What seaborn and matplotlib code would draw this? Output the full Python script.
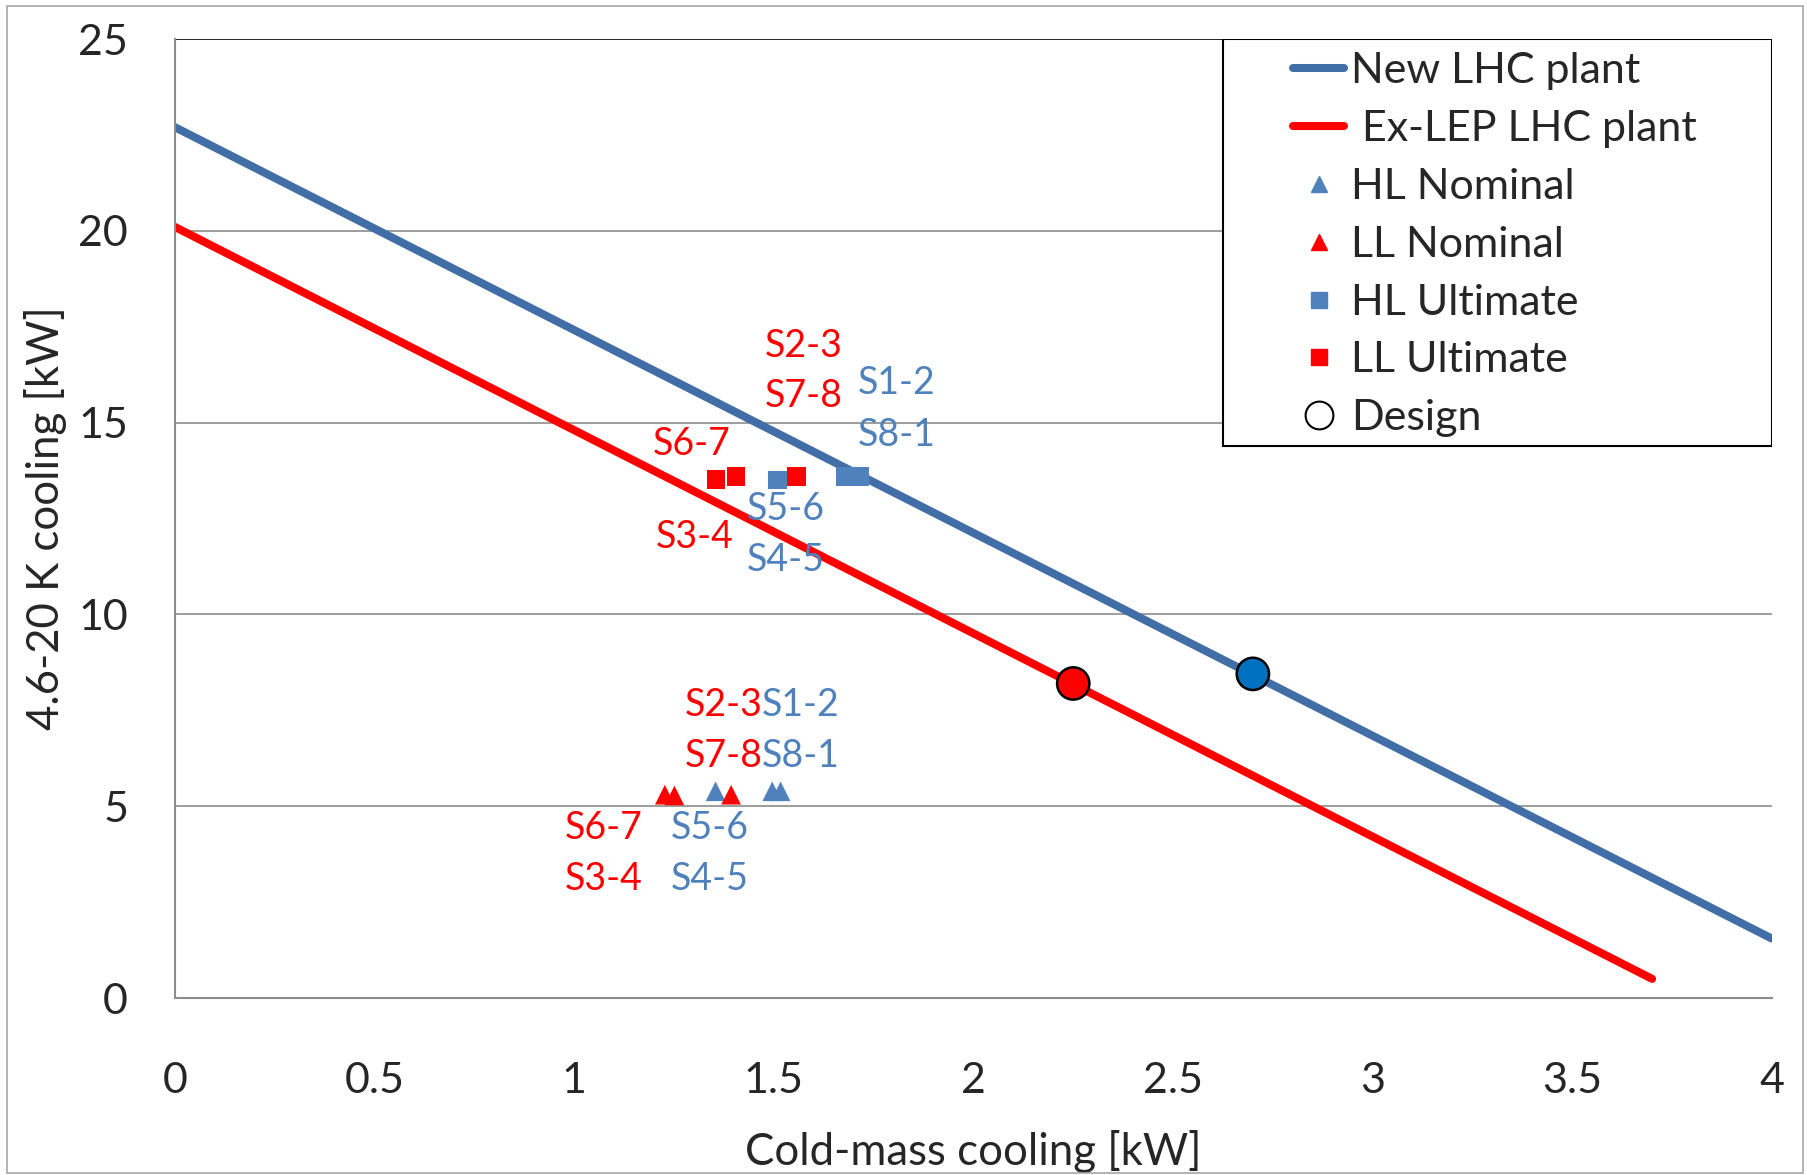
import numpy as np
import pandas as pd
import matplotlib
matplotlib.use("Agg")
import matplotlib.pyplot as plt
import seaborn as sns
from matplotlib.lines import Line2D
from matplotlib.patches import Rectangle

# ---------------- data ----------------
new_plant_x = [0.0, 4.0]
new_plant_y = [22.7, 1.55]
exlep_plant_x = [0.0, 3.7]
exlep_plant_y = [20.1, 0.5]

hl_nominal_x = [1.354, 1.496, 1.517]
hl_nominal_y = [5.39, 5.39, 5.39]
ll_nominal_x = [1.227, 1.251, 1.393]
ll_nominal_y = [5.30, 5.28, 5.30]

hl_ultimate_x = [1.510, 1.678, 1.716]
hl_ultimate_y = [13.50, 13.60, 13.60]
ll_ultimate_x = [1.355, 1.405, 1.557]
ll_ultimate_y = [13.52, 13.60, 13.60]

design_x = [2.70, 2.25]
design_y = [8.45, 8.20]

sector_labels = ["S2-3", "S7-8", "S1-2", "S8-1", "S6-7", "S3-4", "S5-6", "S4-5",
                 "S2-3", "S1-2", "S7-8", "S8-1", "S6-7", "S5-6", "S3-4", "S4-5"]
sector_label_group = ["LL", "LL", "HL", "HL", "LL", "LL", "HL", "HL",
                      "LL", "HL", "LL", "HL", "LL", "HL", "LL", "HL"]
sector_label_x = [1.574, 1.574, 1.808, 1.808, 1.294, 1.303, 1.531, 1.531,
                  1.374, 1.568, 1.374, 1.568, 1.074, 1.340, 1.074, 1.340]
sector_label_y = [17.00, 15.69, 16.02, 14.69, 14.45, 12.02, 12.74, 11.42,
                  7.63, 7.63, 6.31, 6.31, 4.42, 4.42, 3.10, 3.10]

x_ticks = [0, 0.5, 1, 1.5, 2, 2.5, 3, 3.5, 4]
x_tick_labels = ["0", "0.5", "1", "1.5", "2", "2.5", "3", "3.5", "4"]
y_ticks = [0, 5, 10, 15, 20, 25]
y_tick_labels = ["0", "5", "10", "15", "20", "25"]

# ---------------- style ----------------
sns.set_style("white")
plt.rcParams['font.family'] = ['Lato', 'DejaVu Sans']

LINE_BLUE = "#416EA7"
MARK_BLUE = "#4F81BD"
RED = "#FF0000"
DESIGN_BLUE = "#0070C0"
LW = 5.8

fig = plt.figure(figsize=(18.08, 11.75), dpi=100)
ax = fig.add_axes([0.0968, 0.1506, 0.8832, 0.8162])

fig.patches.append(Rectangle((0.004, 0.002), 0.993, 0.993, transform=fig.transFigure,
                             fill=False, edgecolor="#A6A6A6", linewidth=1.2))

# grid lines
for yv in y_ticks[1:]:
    ax.axhline(yv, color="#000000" if yv == 25 else "#8C8C8C", lw=1.2, zorder=0)

df_new = pd.DataFrame({"x": new_plant_x, "y": new_plant_y})
df_lep = pd.DataFrame({"x": exlep_plant_x, "y": exlep_plant_y})
sns.lineplot(data=df_new, x="x", y="y", ax=ax, color=LINE_BLUE, lw=LW, zorder=2)
sns.lineplot(data=df_lep, x="x", y="y", ax=ax, color=RED, lw=LW, zorder=2)

sns.scatterplot(x=hl_nominal_x, y=hl_nominal_y, ax=ax, marker="^", s=200, color=MARK_BLUE,
                edgecolor="none", zorder=3)
sns.scatterplot(x=ll_nominal_x, y=ll_nominal_y, ax=ax, marker="^", s=200, color=RED,
                edgecolor="none", zorder=3)
sns.scatterplot(x=hl_ultimate_x, y=hl_ultimate_y, ax=ax, marker="s", s=180, color=MARK_BLUE,
                edgecolor="none", zorder=3)
sns.scatterplot(x=ll_ultimate_x, y=ll_ultimate_y, ax=ax, marker="s", s=180, color=RED,
                edgecolor="none", zorder=3)
sns.scatterplot(x=design_x, y=design_y, ax=ax, marker="o", s=540,
                color=[DESIGN_BLUE, RED], edgecolor="black", linewidth=1.8, zorder=4)
ax.collections[-1].set_facecolor([DESIGN_BLUE, RED])

for lab, grp, lx, ly in zip(sector_labels, sector_label_group, sector_label_x, sector_label_y):
    ax.text(lx, ly, lab, color=RED if grp == "LL" else MARK_BLUE, fontsize=27,
            ha="center", va="center", zorder=5)

ax.set_xlim(0, 4)
ax.set_ylim(0, 25)
ax.set_xticks(x_ticks)
ax.set_xticklabels(x_tick_labels)
ax.set_yticks(y_ticks)
ax.set_yticklabels(y_tick_labels)
ax.tick_params(axis="y", which="major", direction="out", length=10.8, width=1.2,
               color="#8C8C8C", labelsize=31, pad=23)
ax.tick_params(axis="x", which="major", direction="out", length=9.7, width=1.2,
               color="#8C8C8C", labelsize=31, pad=36.3)
for s in ["top", "right"]:
    ax.spines[s].set_visible(False)
for s in ["left", "bottom"]:
    ax.spines[s].set_color("#8C8C8C")
    ax.spines[s].set_linewidth(1.5)

ax.set_xlabel("Cold-mass cooling [kW]", fontsize=31.5, labelpad=22)
ax.set_ylabel("4.6-20 K cooling [kW]", fontsize=31.5, labelpad=8)

handles = [
    Line2D([], [], color=LINE_BLUE, lw=LW, solid_capstyle="round"),
    Line2D([], [], color=RED, lw=LW, solid_capstyle="round"),
    Line2D([], [], color=MARK_BLUE, marker="^", ls="none", markersize=12),
    Line2D([], [], color=RED, marker="^", ls="none", markersize=12),
    Line2D([], [], color=MARK_BLUE, marker="s", ls="none", markersize=11),
    Line2D([], [], color=RED, marker="s", ls="none", markersize=11),
    Line2D([], [], markerfacecolor="white", markeredgecolor="black", marker="o",
           ls="none", markersize=20, markeredgewidth=1.5),
]
labels = ["New LHC plant", " Ex-LEP LHC plant", "HL Nominal", "LL Nominal",
          "HL Ultimate", "LL Ultimate", "Design"]

# legend frame (Excel style, wide box in the upper right corner)
ax.add_patch(Rectangle((0.656, 0.5757), 0.344, 0.4243, transform=ax.transAxes,
                       fill=True, facecolor="white", edgecolor="black", linewidth=1.5,
                       zorder=6))
leg = ax.legend(handles, labels, loc="upper left", bbox_to_anchor=(0.700, 0.986),
                fontsize=31, frameon=False, handlelength=1.2,
                handletextpad=0.15, labelspacing=0.46, borderpad=0.0, borderaxespad=0.0)
leg.set_zorder(7)

fig.savefig("out.png", dpi=100, facecolor="white")
